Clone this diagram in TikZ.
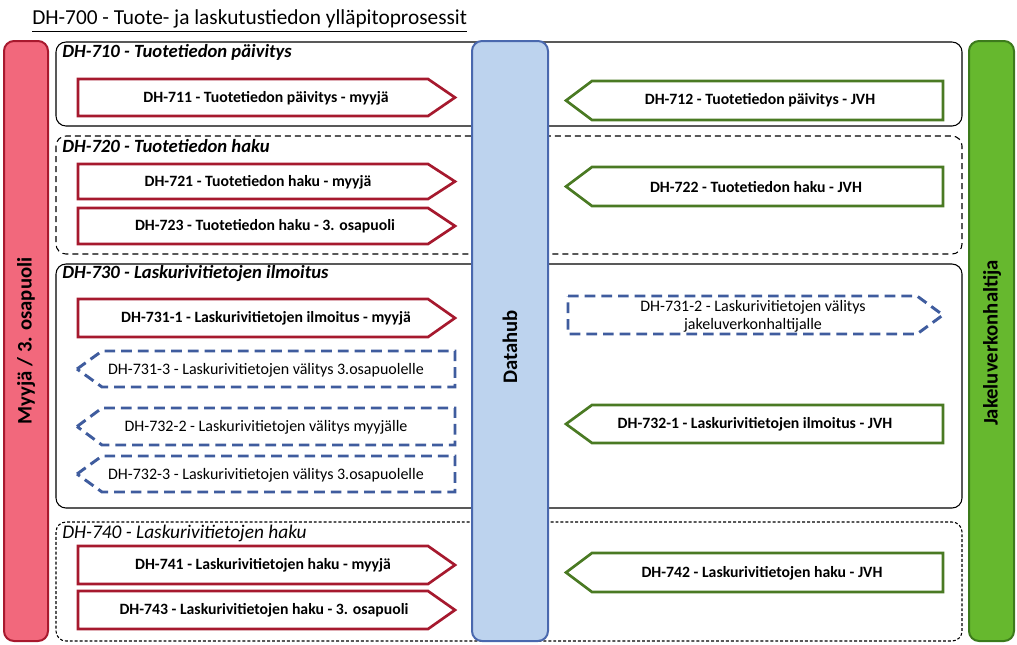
\documentclass[tikz,border=0pt]{standalone}
\usepackage{fontspec}
\setmainfont{Carlito}
\definecolor{redline}{HTML}{A6192E}
\definecolor{greenline}{HTML}{4A7A23}
\definecolor{blueline}{HTML}{3F5C9E}
\definecolor{pinkfill}{HTML}{F2687C}
\definecolor{pinkline}{HTML}{A8192E}
\definecolor{bluefill}{HTML}{BDD3EE}
\definecolor{bluebar}{HTML}{4A68AE}
\definecolor{greenfill}{HTML}{66B82E}
\definecolor{greenbar}{HTML}{3C7A1C}
\tikzset{
  x=0.75pt, y=-0.75pt,
  grp/.style={draw=black, line width=0.8pt, rounded corners=7.5pt},
  grpdash/.style={grp, dash pattern=on 4.5pt off 3pt},
  grpdot/.style={grp, dash pattern=on 2.2pt off 1.5pt},
  grptitle/.style={anchor=west, font=\fontsize{14}{16}\selectfont\bfseries\itshape, inner sep=0pt},
  bar/.style={line width=1.5pt, rounded corners=7.5pt},
  bartext/.style={rotate=90, font=\fontsize{15.5}{18}\selectfont\bfseries},
  redarr/.style={draw=redline, line width=2pt, fill=white},
  greenarr/.style={draw=greenline, line width=2pt, fill=white},
  bluearr/.style={draw=blueline, line width=2.2pt, fill=white, dash pattern=on 8pt off 4.5pt},
  boldtxt/.style={font=\fontsize{11.8}{13}\selectfont\bfseries, inner sep=0pt},
  normtxt/.style={font=\fontsize{12}{13.5}\selectfont, inner sep=0pt, align=center},
}
% right-pointing pentagon: style, left, body end, tip, top, bottom
\newcommand\arR[6]{\draw[#1] (#2,#5) -- (#3,#5) -- (#4,{(#5+#6)/2}) -- (#3,#6) -- (#2,#6) -- cycle;}
% left-pointing pentagon: style, tip, body start, right, top, bottom
\newcommand\arL[6]{\draw[#1] (#2,{(#5+#6)/2}) -- (#3,#5) -- (#4,#5) -- (#4,#6) -- (#3,#6) -- cycle;}
\begin{document}
\begin{tikzpicture}
\useasboundingbox (0,0) rectangle (1017,644);
% title
\node[anchor=west, inner sep=0pt, font=\fontsize{16}{18}\selectfont] (title) at (32,19) {DH-700 - Tuote- ja laskutustiedon ylläpitoprosessit};
\draw[line width=0.7pt] ([yshift=-2.5pt]title.south west) -- ([yshift=-2.5pt]title.south east);
% groups
\draw[grp] (56,42) rectangle (962,126);
\node[grptitle] (g710) at (62,52) {DH-710 - Tuotetiedon päivitys};
\draw[grpdash] (56,136) rectangle (962,254);
\node[grptitle] (g720) at (62,146) {DH-720 - Tuotetiedon haku};
\draw[grp] (56,264) rectangle (962,508);
\node[grptitle] (g730) at (62,274) {DH-730 - Laskurivitietojen ilmoitus};
\draw[grpdot] (56,522) rectangle (962,641);
\node[grptitle, font=\fontsize{14.5}{16}\selectfont\itshape] (g740) at (62,533) {DH-740 - Laskurivitietojen haku};
% bars
\draw[bar, draw=pinkline, fill=pinkfill] (4,41) rectangle (48,641);
\node[bartext] (myyja) at (26,341) {Myyjä / 3. osapuoli};
\draw[bar, draw=bluebar, fill=bluefill] (472,41) rectangle (548,641);
\node[bartext] (datahub) at (510,347) {Datahub};
\draw[bar, draw=greenbar, fill=greenfill] (969,41) rectangle (1014,641);
\node[bartext] (jvh) at (992,343) {Jakeluverkonhaltija};
% red arrows
\arR{redarr}{78}{428}{455}{79}{116}
\node[boldtxt] (a711) at (266,98) {DH-711 - Tuotetiedon päivitys - myyjä};
\arR{redarr}{78}{428}{455}{164}{199}
\node[boldtxt] (a721) at (258,182) {DH-721 - Tuotetiedon haku - myyjä};
\arR{redarr}{78}{428}{455}{208}{244}
\node[boldtxt] (a723) at (265,226) {DH-723 - Tuotetiedon haku - 3. osapuoli};
\arR{redarr}{78}{428}{455}{299}{337}
\node[boldtxt] (a7311) at (266,318) {DH-731-1 - Laskurivitietojen ilmoitus - myyjä};
\arR{redarr}{78}{428}{455}{546}{584}
\node[boldtxt] (a741) at (263,565) {DH-741 - Laskurivitietojen haku - myyjä};
\arR{redarr}{78}{428}{455}{591}{629}
\node[boldtxt] (a743) at (264,610) {DH-743 - Laskurivitietojen haku - 3. osapuoli};
% green arrows
\arL{greenarr}{566}{592}{943}{81}{120}
\node[boldtxt] (a712) at (760,100) {DH-712 - Tuotetiedon päivitys - JVH};
\arL{greenarr}{566}{592}{943}{167}{206}
\node[boldtxt] (a722) at (756,187) {DH-722 - Tuotetiedon haku - JVH};
\arL{greenarr}{566}{592}{943}{405}{443}
\node[boldtxt] (a7321) at (755,424) {DH-732-1 - Laskurivitietojen ilmoitus - JVH};
\arL{greenarr}{566}{592}{943}{553}{592}
\node[boldtxt] (a742) at (762,573) {DH-742 - Laskurivitietojen haku - JVH};
% blue dashed arrows
\arR{bluearr}{568}{917}{943}{296}{334}
\node[normtxt] (a7312) at (753,316) {DH-731-2 - Laskurivitietojen välitys\\jakeluverkonhaltijalle};
\arL{bluearr}{77}{102}{455}{351}{387}
\node[normtxt] (a7313) at (266,370) {DH-731-3 - Laskurivitietojen välitys 3.osapuolelle};
\arL{bluearr}{77}{102}{455}{408}{445}
\node[normtxt] (a7322) at (266,427) {DH-732-2 - Laskurivitietojen välitys myyjälle};
\arL{bluearr}{77}{102}{455}{456}{492}
\node[normtxt] (a7323) at (266,475) {DH-732-3 - Laskurivitietojen välitys 3.osapuolelle};
\end{tikzpicture}
\end{document}
